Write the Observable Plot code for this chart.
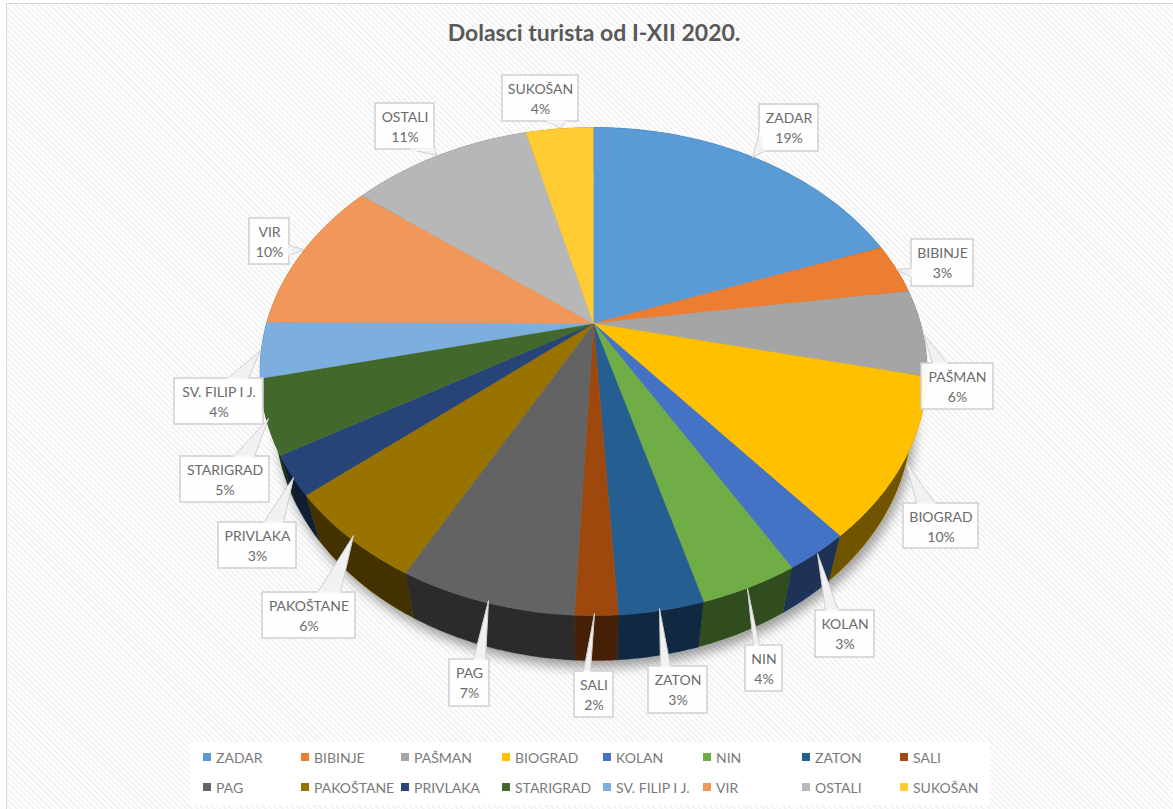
<!DOCTYPE html>
<html lang="hr">
<head>
<meta charset="utf-8">
<script src="https://cdn.jsdelivr.net/npm/d3@7"></script>
<script src="https://cdn.jsdelivr.net/npm/@observablehq/plot@0.6"></script>
<style>
  html, body { margin: 0; padding: 0; background: #fff; }
  #page { position: relative; width: 1173px; height: 809px; overflow: hidden; font-family: Lato, "Open Sans", sans-serif; }
  #frame { position: absolute; left: 6px; top: 3px; right: 0; bottom: 0; border-left: 1.5px solid #d6d6d6; border-top: 1.5px solid #d6d6d6;
    background: repeating-linear-gradient(45deg, #ffffff 0 2px, #f3f3f3 2px 4px); }
  #title { position: relative; height: 50px; box-sizing: border-box; padding-top: 18px; text-align: center; width: 1188px;
    font-size: 23px; line-height: 28px; font-weight: 700; color: #595959; }
  #chart { position: relative; height: 692px; }
  #chart svg { display: block; background: transparent; }
  #legend { position: relative; margin-left: 190px; width: 800px; height: 63px; background: #fff; display: grid;
    grid-template-columns: 98px 100px 101px 101px 100px 99px 98px 103px; grid-auto-rows: 30px; padding-left: 13px; box-sizing: border-box; }
  #legend div { display: flex; align-items: center; font-size: 14px; color: #7a7a7a; white-space: nowrap; }
  #legend i { display: inline-block; width: 8px; height: 8px; margin-right: 5px; flex: none; }
</style>
</head>
<body>
<div id="page">
  <div id="frame"></div>
  <div id="title"></div>
  <div id="chart"></div>
  <div id="legend"></div>
</div>
<script>
// ---------- data ----------
const title = "Dolasci turista od I-XII 2020.";
const names = ["ZADAR","BIBINJE","PAŠMAN","BIOGRAD","KOLAN","NIN","ZATON","SALI","PAG","PAKOŠTANE","PRIVLAKA","STARIGRAD","SV. FILIP I J.","VIR","OSTALI","SUKOŠAN"];
const shares = [19.4,3.35,5.75,10.45,2.65,4,3.43,1.72,7.15,6.05,2.6,4.85,3.7,10.35,10.6,3.95];
const colors = ["#5b9bd5","#ed7d31","#a5a5a5","#ffc000","#4472c4","#70ad47","#255e91","#9e480e","#636363","#997300","#264478","#43682b","#7cafdd","#f1975a","#b7b7b7","#ffcd33"];

// ---------- layout of the callouts (page pixels): box x1,y1,x2,y2 / tip x,y / wedge base x,y,x,y ----------
const callouts = [
  [759,104,818,151, 752,157, 759,132,763,151],
  [911,239,973,286, 896,269, 911,268,911,277],
  [921,363,993,409, 923,333, 932,363,947,363],
  [903,503,978,548, 906,463, 916,503,935,503],
  [815,610,874,657, 817,553, 825,610,838,610],
  [745,645,782,691, 747,588, 753,645,759,645],
  [648,666,707,713, 659,608, 660,666,670,666],
  [574,671,613,717, 594,613, 583,671,590,671],
  [449,659,489,706, 488,600, 473,659,485,659],
  [262,592,355,638, 353,535, 317,592,340,592],
  [218,522,296,568, 293,477, 263,522,283,522],
  [180,456,269,502, 268,418, 233,456,254,456],
  [174,378,263,424, 260,350, 227,378,248,378],
  [249,218,289,264, 303,249, 289,245,289,255],
  [375,103,434,149, 437,155, 410,149,434,149],
  [502,75,578,121, 560,128, 547,121,565,121]
];

// ---------- perspective view of the pie ----------
const apex = {x: 593, y: 323};
const view = {k: 0.1967, a: 327, b: 234.6, depth: 45, narrow: 0.955};
const rim = (deg, bottom) => {
  const t = deg * Math.PI / 180, u = Math.sin(t), v = -Math.cos(t), w = 1 - view.k * v;
  const X = view.a * u / w, Y = view.b * v / w;
  return bottom ? {x: apex.x + X * view.narrow, y: apex.y + Y + view.depth} : {x: apex.x + X, y: apex.y + Y};
};
const total = d3.sum(shares);
let acc = 0;
const slices = names.map((name, i) => {
  const a0 = acc / total * 360; acc += shares[i]; const a1 = acc / total * 360;
  return {name, share: shares[i], a0, a1};
});
const arcAngles = (s) => d3.range(0, 41).map(j => s.a0 + (s.a1 - s.a0) * j / 40);
const tops = slices.flatMap(s => [{name: s.name, ...apex}, ...arcAngles(s).map(a => ({name: s.name, ...rim(a, false)}))]);
const walls = slices.flatMap(s => [
  ...arcAngles(s).map(a => ({name: s.name, ...rim(a, false)})),
  ...arcAngles(s).reverse().map(a => ({name: s.name, ...rim(a, true)}))
]);
const shadow = d3.range(0, 361, 2).map(a => { const p = rim(a, true); return {x: p.x + 3, y: p.y + 7}; });

const boxes = callouts.map((c, i) => ({
  name: names[i], pct: Math.round(shares[i]) + "%",
  x1: c[0], y1: c[1], x2: c[2], y2: c[3], tx: c[4], ty: c[5], bx1: c[6], by1: c[7], bx2: c[8], by2: c[9],
  cx: (c[0] + c[2]) / 2
}));
const wedges = boxes.flatMap(b => [
  {name: b.name, x: b.bx1, y: b.by1}, {name: b.name, x: b.tx, y: b.ty}, {name: b.name, x: b.bx2, y: b.by2}
]);

// ---------- chart ----------
document.getElementById("title").textContent = title;
const svgTop = 50, svgHeight = 692;
const labelFont = {fontFamily: "Lato, 'Open Sans', sans-serif", fontSize: 14, fill: "#6b6b6b"};
const plot = Plot.plot({
  width: 1173, height: svgHeight, margin: 0,
  style: {background: "transparent", overflow: "visible"},
  x: {domain: [0, 1173], range: [0, 1173], axis: null},
  y: {domain: [svgTop, svgTop + svgHeight], range: [0, svgHeight], axis: null},
  color: {domain: names, range: colors},
  marks: [
    Plot.line(shadow, {x: "x", y: "y", fill: "#000", fillOpacity: 0.38, stroke: "none", imageFilter: "blur(6px)"}),
    Plot.line(walls, {x: "x", y: "y", z: "name", fill: "name", stroke: "name", strokeWidth: 0.5}),
    Plot.line(walls, {x: "x", y: "y", z: "name", fill: "#000", fillOpacity: 0.56, stroke: "none"}),
    Plot.line(tops, {x: "x", y: "y", z: "name", fill: "name", stroke: "name", strokeWidth: 0.5}),
    Plot.rect(boxes, {x1: "x1", x2: "x2", y1: "y1", y2: "y2", fill: "#fff", fillOpacity: 0.92, stroke: "#cfcfcf", strokeWidth: 1.5}),
    Plot.line(wedges, {x: "x", y: "y", z: "name", fill: "#f1f1f1", stroke: "#cfcfcf", strokeWidth: 1}),
    Plot.link(boxes, {x1: "bx1", y1: "by1", x2: "bx2", y2: "by2", stroke: "#f8f8f8", strokeWidth: 2.2}),
    Plot.text(boxes, {x: "cx", y: b => b.y1 + 14, text: "name", ...labelFont}),
    Plot.text(boxes, {x: "cx", y: b => b.y1 + 34, text: "pct", ...labelFont})
  ]
});
document.getElementById("chart").append(plot);

// ---------- legend ----------
const legend = document.getElementById("legend");
names.forEach((name, i) => {
  const item = document.createElement("div");
  const sw = document.createElement("i");
  sw.style.background = colors[i];
  item.append(sw, document.createTextNode(name));
  legend.append(item);
});
</script>
</body>
</html>
